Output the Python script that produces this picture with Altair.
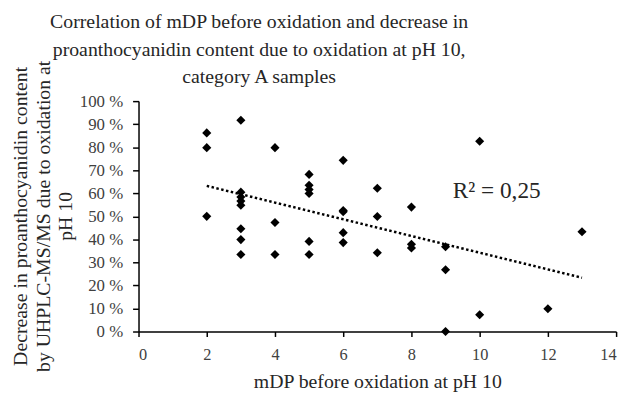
import altair as alt
import pandas as pd

# Data
mdp = [2, 2, 2,
       3, 3, 3, 3, 3, 3, 3, 3,
       4, 4, 4,
       5, 5, 5, 5, 5, 5,
       6, 6, 6, 6, 6,
       7, 7, 7,
       8, 8, 8,
       9, 9, 9,
       10, 10,
       12,
       13]
decrease = [86.2, 79.8, 50.0,
            91.7, 60.5, 58.4, 56.6, 54.8, 44.6, 39.9, 33.4,
            79.8, 47.3, 33.4,
            68.2, 63.5, 61.6, 59.9, 39.1, 33.4,
            74.3, 52.5, 52.0, 42.9, 38.6,
            62.2, 49.9, 34.2,
            54.0, 37.9, 36.3,
            36.8, 26.8, 0.0,
            82.6, 7.3,
            9.9,
            43.3]
r2_label = ["R² = 0,25"]

x_ticks = [0, 2, 4, 6, 8, 10, 12, 14]
y_ticks = [0, 10, 20, 30, 40, 50, 60, 70, 80, 90, 100]

df = pd.DataFrame({"mdp": mdp, "decrease": decrease})
lab = pd.DataFrame({"x": [10.5], "y": [61.0], "t": r2_label})

FONT = "Liberation Serif"

xscale = alt.Scale(domain=[0, 14], nice=False)
yscale = alt.Scale(domain=[0, 100], nice=False)

xaxis = alt.Axis(values=x_ticks, format="d", title="mDP before oxidation at pH 10", grid=False,
                 labelOverlap=False,
                 domainColor="black", domainWidth=1.5, tickColor="black", tickWidth=1.5,
                 tickSize=5, labelFont=FONT, labelFontSize=16.5, labelColor="#404040",
                 labelPadding=10, titleFont=FONT, titleFontSize=20, titleFontWeight="normal",
                 titleColor="#262626", titlePadding=9)
yaxis = alt.Axis(values=y_ticks, tickCount=20, grid=False, labelOverlap=False,
                 title=["Decrease in proanthocyanidin content",
                        "by UHPLC-MS/MS due to oxidation at", "pH 10"],
                 labelExpr="format(datum.value, 'd') + ' %'",
                 domainColor="black", domainWidth=1.5, tickColor="black", tickWidth=1.5,
                 tickSize=6, labelFont=FONT, labelFontSize=17, labelColor="#404040",
                 labelPadding=10, titleFont=FONT, titleFontSize=20, titleFontWeight="normal",
                 titleColor="#262626", titleLineHeight=22.5,
                 titleBaseline="top", titleAlign="center", titleAngle=270,
                 titleX=-129, titleY=116)

base = alt.Chart(df)

points = base.mark_point(shape="diamond", filled=True, color="black", size=85, opacity=1).encode(
    x=alt.X("mdp:Q", scale=xscale, axis=xaxis),
    y=alt.Y("decrease:Q", scale=yscale, axis=yaxis),
)

trend = base.transform_regression("mdp", "decrease", method="linear").mark_line(
    color="black", strokeWidth=2.5, strokeDash=[2.5, 2.5]
).encode(
    x=alt.X("mdp:Q", scale=xscale),
    y=alt.Y("decrease:Q", scale=yscale),
)

label = alt.Chart(lab).mark_text(font=FONT, fontSize=23.5, color="#262626", baseline="middle").encode(
    x=alt.X("x:Q", scale=xscale),
    y=alt.Y("y:Q", scale=yscale),
    text="t:N",
)

chart = alt.layer(points, trend, label).properties(
    width=483,
    height=233,
    autosize=alt.AutoSizeParams(type="none"),
    padding={"left": 132, "top": 92, "right": 10, "bottom": 60},
    title=alt.TitleParams(
        text=["Correlation of mDP before oxidation and decrease in",
              "proanthocyanidin content due to oxidation at pH 10,",
              "category A samples"],
        font=FONT, fontSize=20, fontWeight="normal", color="#262626",
        anchor="middle", dx=-119.5, offset=-27, lineHeight=27.5,
    ),
).configure_view(stroke=None)

chart.save("out.html", embed_options={"renderer": "svg", "actions": False})
